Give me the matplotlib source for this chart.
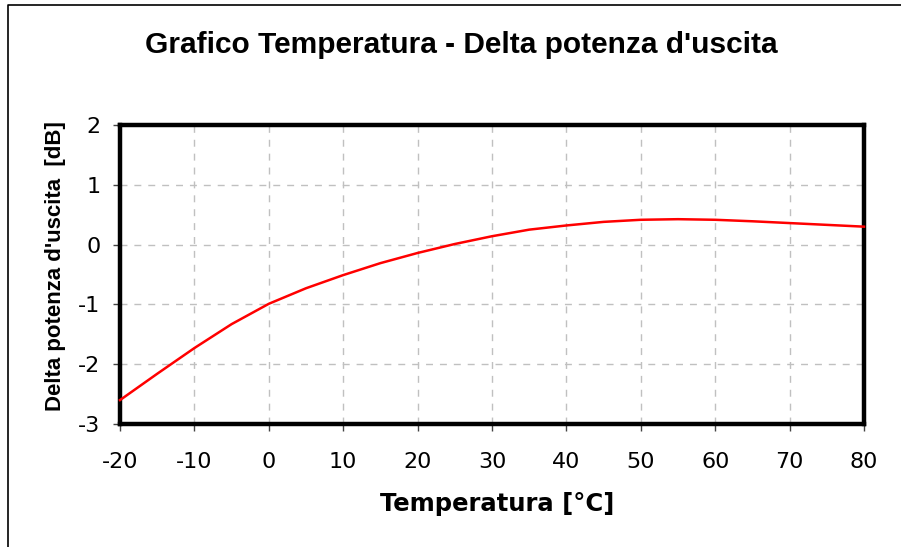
import matplotlib
matplotlib.use('Agg')
import matplotlib.pyplot as plt
from matplotlib.lines import Line2D

plt.rcParams['axes.unicode_minus'] = False

# temperature [°C] and delta output power [dB]
temperature = [-20, -15, -10, -5, 0, 5, 10, 15, 20, 25, 30, 35, 40,
               45, 50, 55, 60, 65, 70, 75, 80]
delta_power = [-2.60, -2.16, -1.73, -1.33, -0.99, -0.73, -0.51, -0.31, -0.14,
               0.01, 0.14, 0.25, 0.32, 0.38, 0.415, 0.425, 0.415, 0.39,
               0.36, 0.33, 0.30]
x_ticks = list(range(-20, 81, 10))
y_ticks = [-3, -2, -1, 0, 1, 2]

W, H = 901, 547
fig = plt.figure(figsize=(W / 100, H / 100), dpi=100)
fig.patch.set_facecolor('white')

ax = fig.add_axes([120 / W, 1 - 424 / H, (864 - 120) / W, (424 - 125) / H])
ax.plot(temperature, delta_power, color='#ff0000', lw=1.8, clip_on=False, zorder=3)

ax.set_xlim(-20, 80)
ax.set_ylim(-3, 2)
ax.set_xticks(x_ticks)
ax.set_yticks(y_ticks)
ax.grid(True, color='#c0c0c0', lw=1, linestyle=(0, (5, 5)))
ax.set_axisbelow(True)
for s in ax.spines.values():
    s.set_linewidth(3.2)
    s.set_color('black')
ax.tick_params(axis='both', direction='out', length=5, width=1, color='#444444',
               labelsize=16)
ax.tick_params(axis='x', pad=15)
ax.tick_params(axis='y', pad=9)
for lab in ax.get_xticklabels() + ax.get_yticklabels():
    lab.set_fontfamily('DejaVu Sans')

fig.text(461 / W, 1 - 45 / H, "Grafico Temperatura - Delta potenza d'uscita",
         ha='center', va='center', fontsize=21.5, fontweight='bold',
         family='Liberation Sans')
fig.text(497 / W, 1 - 504 / H, "Temperatura [°C]", ha='center', va='center',
         fontsize=17.5, fontweight='bold', family='DejaVu Sans')
fig.text(55 / W, 1 - 266 / H, "Delta potenza d'uscita  [dB]", ha='center',
         va='center', rotation=90, fontsize=16, fontweight='bold',
         family='Liberation Sans')

# outer chart frame (left and top edges only visible)
fx, fy = 8 / W, 1 - 5 / H
fig.add_artist(Line2D([fx, fx, 1], [0, fy, fy], color='black', lw=1.2,
                      transform=fig.transFigure))

fig.savefig('out.png', dpi=100)
